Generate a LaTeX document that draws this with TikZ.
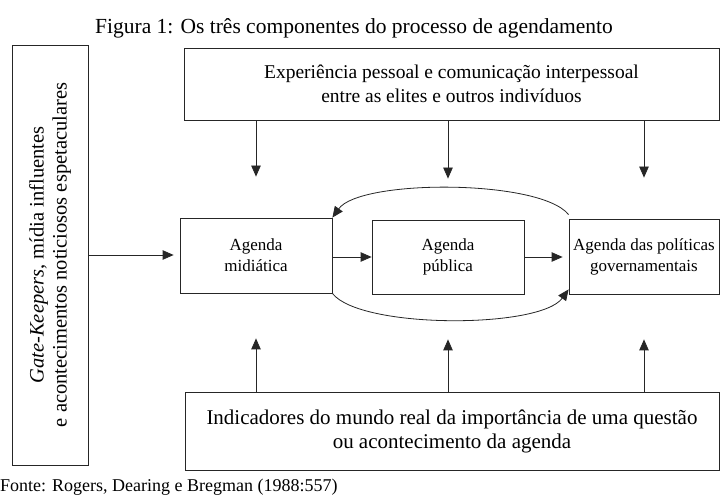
\documentclass[tikz,border=0pt]{standalone}
\usepackage{fontspec}
\setmainfont{Liberation Serif}
\usetikzlibrary{arrows.meta}
\tikzset{
  box/.style={draw=black!85, line width=0.8pt, align=center, inner sep=2pt},
  small/.style={font=\fontsize{17}{21}\selectfont},
  arr/.style={draw=black!85, line width=0.8pt, -{Triangle[length=11pt,width=9.5pt]}},
}
\begin{document}
\begin{tikzpicture}[x=1pt,y=-1pt]
\useasboundingbox (0,0) rectangle (721,497);
\node[font=\fontsize{21.5}{24}\selectfont, anchor=center] (title) at (354,28) {Figura 1: Os três componentes do processo de agendamento};
\node[box, font=\fontsize{20.5}{23}\selectfont, rotate=90, minimum width=420pt, minimum height=76pt] (gk) at (50,255)
  {\textit{Gate-Keepers}, mídia influentes\\e acontecimentos noticiosos espetaculares};
\node[box, font=\fontsize{19.5}{24}\selectfont, minimum width=535pt, minimum height=72pt] (top) at (451.5,84)
  {Experiência pessoal e comunicação interpessoal\\entre as elites e outros indivíduos};
\node[box, font=\fontsize{21}{24}\selectfont, minimum width=534pt, minimum height=78pt] (bot) at (452,431)
  {Indicadores do mundo real da importância de uma questão\\ou acontecimento da agenda};
\node[box, small, minimum width=152pt, minimum height=75pt] (mid) at (256,255.5) {Agenda\\midiática};
\node[box, small, minimum width=152pt, minimum height=74pt] (pub) at (448,257) {Agenda\\pública};
\node[box, small, minimum width=150pt, minimum height=75pt] (gov) at (644,256.5) {Agenda das políticas\\governamentais};
\node[anchor=base west, inner sep=0pt, font=\fontsize{18}{20}\selectfont] (src) at (0,491) {Fonte: Rogers, Dearing e Bregman (1988:557)};
% left arrow
\draw[arr, shorten >=6pt] (gk.south) -- (gk.south -| mid.west);
% horizontal arrows
\draw[arr] (mid.east |- pub.west) -- (pub.west);
\draw[arr, shorten >=6pt] (pub.east) -- (pub.east -| gov.west);
% down arrows
\foreach \n in {mid,pub,gov}{
  \draw[arr] (top.south -| \n.north) -- ([yshift=41pt]\n.north);
  \draw[arr] (bot.north -| \n.south) -- ([yshift=-45pt]\n.south);
}
% loop arcs
\draw[arr] ([yshift=4pt]gov.north west) .. controls (540,179) and (360,179) .. (mid.north east);
\draw[arr] (mid.south east) .. controls (360,329) and (540,329) .. ([yshift=5pt]gov.south west);
\end{tikzpicture}
\end{document}
